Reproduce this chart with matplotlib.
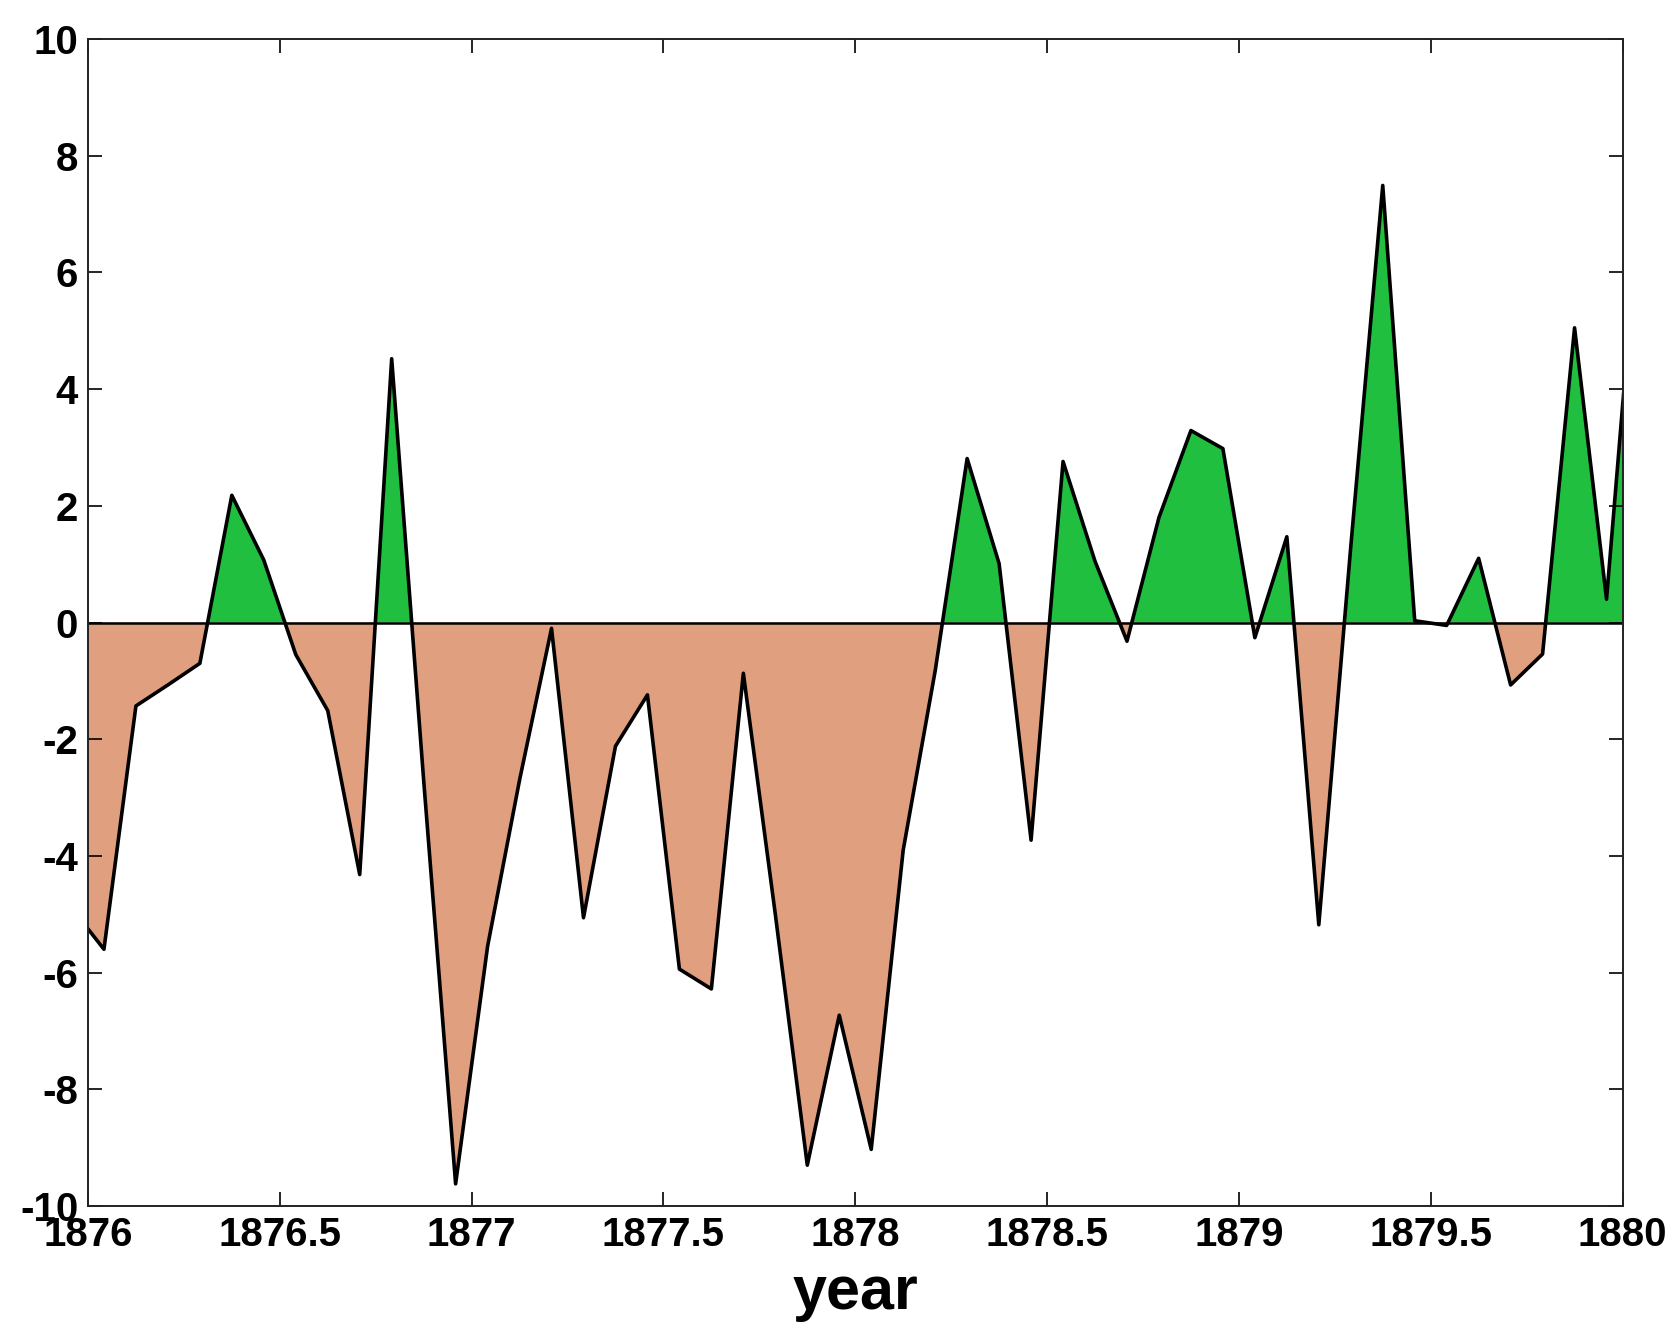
import numpy as np
import matplotlib.pyplot as plt

# monthly anomaly values, Dec 1875 .. Jan 1880 (mid-month)
start_year = 1875
start_month = 12
vals_1875 = [-4.9]
vals_1876 = [-5.6, -1.43, -1.07, -0.7, 2.18, 1.07, -0.55, -1.51, -4.32, 4.52, -2.7, -9.62]
vals_1877 = [-5.55, -2.7, -0.1, -5.06, -2.12, -1.24, -5.94, -6.28, -0.87, -5.0, -9.3, -6.73]
vals_1878 = [-9.03, -3.9, -0.83, 2.81, 1.01, -3.73, 2.76, 1.05, -0.32, 1.8, 3.29, 2.98]
vals_1879 = [-0.26, 1.47, -5.18, 1.3, 7.49, 0.03, -0.05, 1.1, -1.07, -0.54, 5.05, 0.4]
vals_1880 = [7.0]

y = np.array(vals_1875 + vals_1876 + vals_1877 + vals_1878 + vals_1879 + vals_1880)
t = start_year + (start_month - 0.5) / 12 + np.arange(len(y)) / 12

xticks = [1876, 1876.5, 1877, 1877.5, 1878, 1878.5, 1879, 1879.5, 1880]
xticklabels = ['1876', '1876.5', '1877', '1877.5', '1878', '1878.5', '1879', '1879.5', '1880']
yticks = np.arange(-10, 11, 2)

plt.rcParams['font.family'] = ['Liberation Sans', 'DejaVu Sans']
plt.rcParams['axes.unicode_minus'] = False

fig = plt.figure(figsize=(16.66, 13.36), dpi=100)
ax = fig.add_axes([0.0528, 0.0973, 0.9211, 0.8735])

ax.fill_between(t, y, 0, where=y >= 0, interpolate=True, color='#21bf3f', lw=0)
ax.fill_between(t, y, 0, where=y <= 0, interpolate=True, color='#e0a080', lw=0)
ax.axhline(0, color='black', lw=1.8)
ax.plot(t, y, color='black', lw=2.6)

ax.set_xlim(1876, 1880)
ax.set_ylim(-10, 10)
ax.set_xticks(xticks)
ax.set_xticklabels(xticklabels)
ax.set_yticks(yticks)
ax.tick_params(direction='in', length=10, width=1.2, top=True, right=True,
               labelsize=29)
ax.tick_params(axis='x', pad=7)
ax.tick_params(axis='y', pad=7)
for lab in ax.get_xticklabels() + ax.get_yticklabels():
    lab.set_fontweight('bold')
for s in ax.spines.values():
    s.set_linewidth(1.4)
    s.set_color('#222222')

ax.set_xlabel('year', fontsize=44, fontweight='bold', labelpad=8)

fig.savefig('out.png', dpi=100)
